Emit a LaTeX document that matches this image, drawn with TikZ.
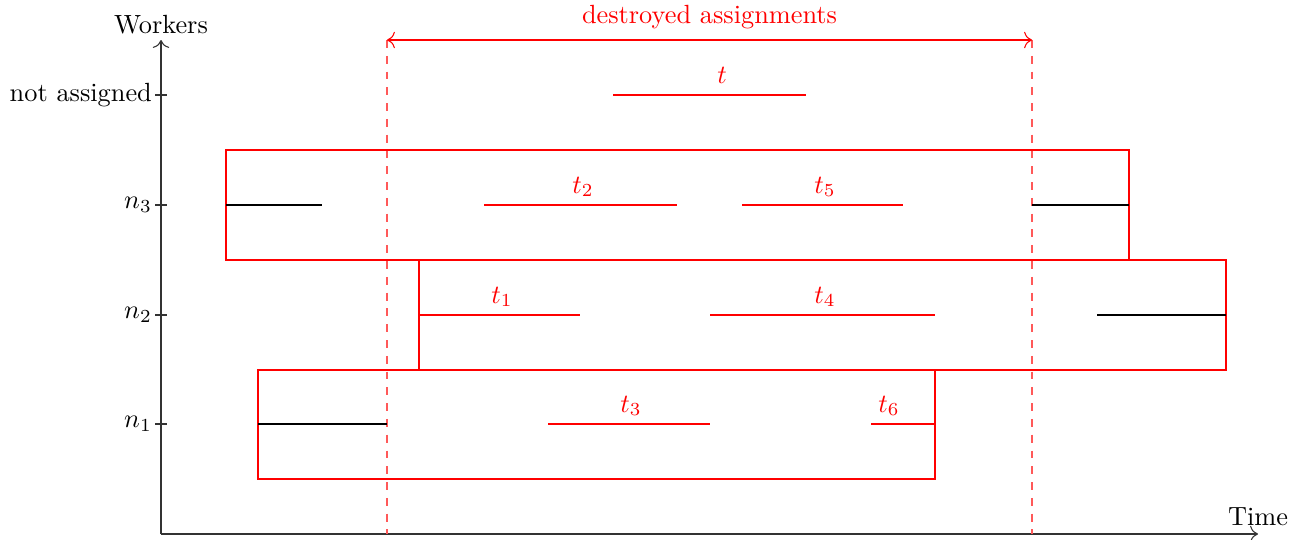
\documentclass[tikz,border=0pt]{standalone}
\usetikzlibrary{arrows.meta}
\begin{document}
\begin{tikzpicture}[x=0.38pt,y=-0.38pt,
  axis/.style={line width=0.4pt,black!80},
  busy/.style={line width=0.8pt,black},
  task/.style={line width=0.8pt,red},
  grp/.style={line width=0.8pt,red},
  cut/.style={line width=0.5pt,red!65,dashed},
  tlab/.style={red,inner sep=1pt,anchor=base},
  ylab/.style={anchor=east,inner sep=1pt}]
\useasboundingbox (0,0) rectangle (1309,539);
% axes
\coordinate (O) at (161,534);
\coordinate (Ytop) at (161,40);
\coordinate (Xend) at (1258,534);
\draw[axis,-{To[length=3pt]}] (O) -- (Ytop);
\draw[axis,-{To[length=3pt]}] (O) -- (Xend);
\node[anchor=south,inner sep=2pt] (wk) at (Ytop) {Workers};
\node[anchor=south,inner sep=3pt] (tm) at (Xend) {Time};
% ticks
\foreach \y/\n/\t in {95/na/{not assigned},205/n3/$n_3$,315/n2/$n_2$,424/n1/$n_1$}{
  \coordinate (tl\n) at (155,\y);
  \coordinate (tr\n) at (167,\y);
  \draw[axis] (tl\n) -- (tr\n);
  \node[ylab] (lab\n) at (tl\n) {\t};
}
% groups
\draw[grp] (226,150) rectangle (1129,260);
\draw[grp] (419,260) rectangle (1226,370);
\draw[grp] (258,370) rectangle (935,479);
% cut lines
\coordinate (c1t) at (387,40); \coordinate (c1b) at (387,534);
\coordinate (c2t) at (1032,40); \coordinate (c2b) at (1032,534);
\draw[cut] (c1t) -- (c1b);
\draw[cut] (c2t) -- (c2b);
\draw[red,line width=0.4pt,{To[length=3pt]}-{To[length=3pt]}] (c1t) -- (c2t)
  node[midway,above=0.5pt,red] (da) {destroyed assignments};
% black segments
\draw[busy] (226,205) -- (322,205);
\draw[busy] (1032,205) -- (1129,205);
\draw[busy] (1097,315) -- (1226,315);
\draw[busy] (258,424) -- (387,424);
% tasks
\draw[task] (613,95) -- (806,95);
\node[tlab] (lt) at (722,83) {$t$};
\draw[task] (484,205) -- (677,205);
\node[tlab] (lt2) at (583,193) {$t_2$};
\draw[task] (742,205) -- (903,205);
\node[tlab] (lt5) at (825,193) {$t_5$};
\draw[task] (419,315) -- (580,315);
\node[tlab] (lt1) at (502,303) {$t_1$};
\draw[task] (710,315) -- (935,315);
\node[tlab] (lt4) at (825,303) {$t_4$};
\draw[task] (548,424) -- (710,424);
\node[tlab] (lt3) at (631,412) {$t_3$};
\draw[task] (871,424) -- (935,424);
\node[tlab] (lt6) at (889,412) {$t_6$};
\end{tikzpicture}
\end{document}
